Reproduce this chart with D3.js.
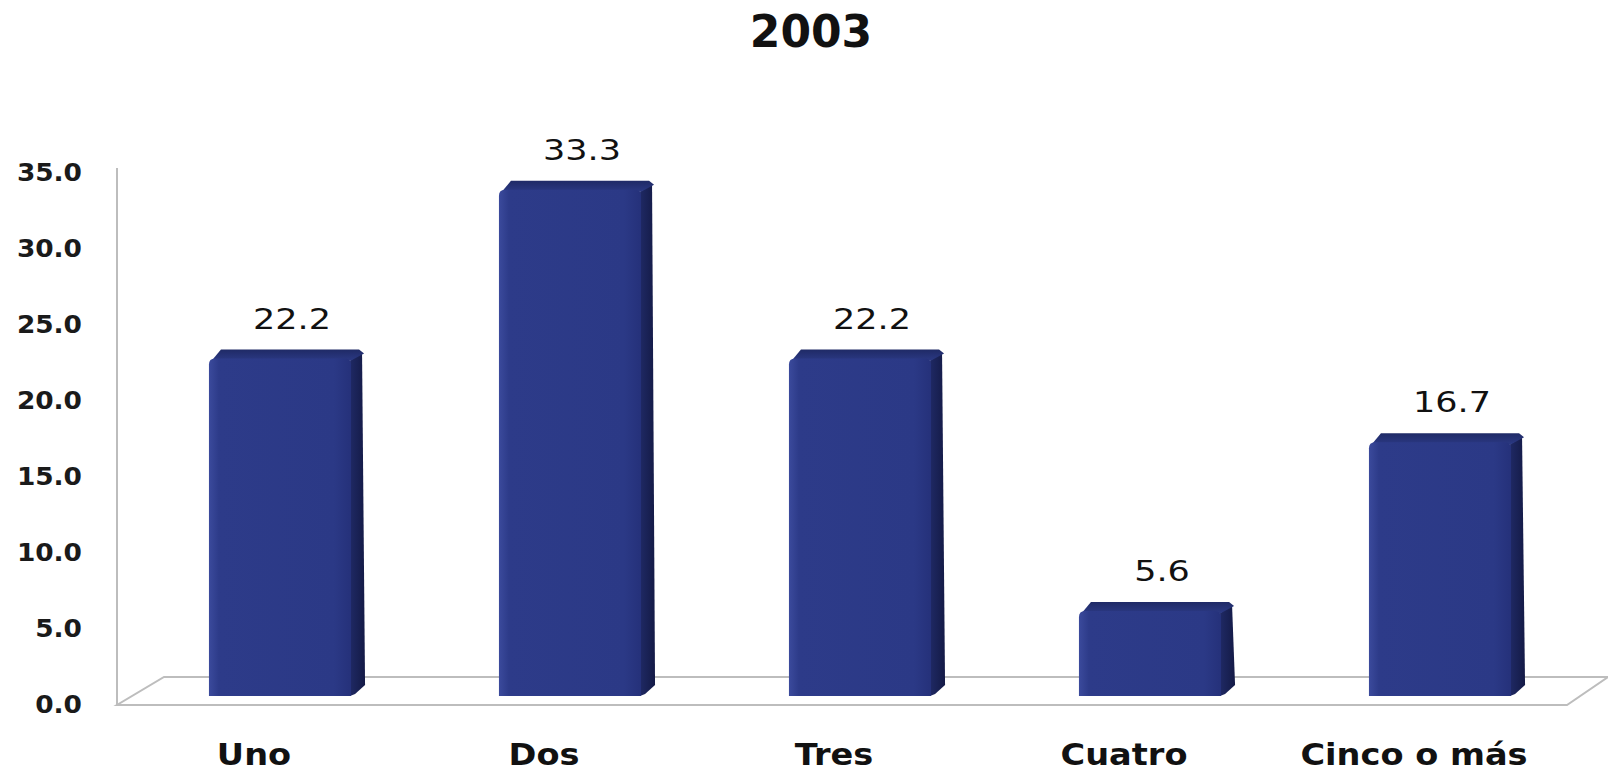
<!DOCTYPE html>
<html>
<head>
<meta charset="utf-8">
<script src="https://cdn.jsdelivr.net/npm/d3@7"></script>
<style>
  body { margin: 0; background: #fff; }
  text { font-family: "DejaVu Sans", Verdana, sans-serif; fill: #111; }
</style>
</head>
<body>
<div id="chart"></div>
<script>
// data
var title = "2003";
var categories = ["Uno", "Dos", "Tres", "Cuatro", "Cinco o más"];
var values = [22.2, 33.3, 22.2, 5.6, 16.7];
var yTicks = [0, 5, 10, 15, 20, 25, 30, 35];

var width = 1608, height = 777;

var svg = d3.select("#chart")
  .append("svg")
    .attr("width", width)
    .attr("height", height);

// scales (front edge of the floor)
var x = d3.scaleBand()
  .domain(categories)
  .range([117, 1567])
  .paddingInner(0.51)
  .paddingOuter(0.255);

var y = d3.scaleLinear()
  .domain([0, 35])
  .range([704, 172]);

// fake 3d offsets
var floorDx = 41, floorDy = 28;
var barDx = 18, barDy = 8;
var sideW = 14, topH = 9;

// gradients
var defs = svg.append("defs");
var gFront = defs.append("linearGradient").attr("id", "front").attr("x1", 0).attr("x2", 1).attr("y1", 0).attr("y2", 0);
gFront.append("stop").attr("offset", "0%").attr("stop-color", "#3b4a9c");
gFront.append("stop").attr("offset", "7%").attr("stop-color", "#2d3b89");
gFront.append("stop").attr("offset", "88%").attr("stop-color", "#2b3986");
gFront.append("stop").attr("offset", "100%").attr("stop-color", "#25317a");
var gSide = defs.append("linearGradient").attr("id", "side").attr("x1", 0).attr("x2", 1).attr("y1", 0).attr("y2", 0);
gSide.append("stop").attr("offset", "0%").attr("stop-color", "#1f2964");
gSide.append("stop").attr("offset", "100%").attr("stop-color", "#141a46");
var gTop = defs.append("linearGradient").attr("id", "top").attr("x1", 0).attr("x2", 0).attr("y1", 0).attr("y2", 1);
gTop.append("stop").attr("offset", "0%").attr("stop-color", "#1f2a66");
gTop.append("stop").attr("offset", "100%").attr("stop-color", "#2c3a86");

// title
svg.append("text")
  .attr("x", 811)
  .attr("y", 47)
  .attr("text-anchor", "middle")
  .style("font-size", "44px")
  .style("font-weight", "bold")
  .text(title);

// floor
var x0 = x.range()[0], x1 = x.range()[1];
svg.append("polygon")
  .attr("points", [
    [x0, y(0) + 1], [x1, y(0) + 1],
    [x1 + floorDx, y(0) + 1 - floorDy], [x0 + floorDx + 6, y(0) + 1 - floorDy]
  ].map(function(p) { return p.join(","); }).join(" "))
  .attr("fill", "#fff")
  .attr("stroke", "#bdbdbd")
  .attr("stroke-width", 2);

// vertical axis line
svg.append("line")
  .attr("x1", x0).attr("x2", x0)
  .attr("y1", y(35) - 4).attr("y2", y(0) + 1)
  .attr("stroke", "#bdbdbd")
  .attr("stroke-width", 2);

// y axis labels
var yAxis = svg.append("g")
  .attr("transform", "translate(82,0)")
  .call(d3.axisLeft(y).tickValues(yTicks).tickFormat(d3.format(".1f")).tickSize(0).tickPadding(0));
yAxis.select(".domain").remove();
yAxis.selectAll("text")
  .attr("x", 0)
  .attr("dy", "0.36em")
  .attr("transform", "scale(1.1,1)")
  .style("font-family", "'DejaVu Sans', Verdana, sans-serif")
  .style("font-size", "24px")
  .style("font-weight", "bold")
  .style("fill", "#1a1a1a");

// bars
var bw = x.bandwidth();
var bars = svg.append("g")
  .selectAll("g")
  .data(categories)
  .enter()
  .append("g");

bars.append("polygon")
  .attr("points", function(d, i) {
    var l = x(d) + barDx, r = l + bw, t = y(values[i]) - barDy, b = y(0) - barDy;
    return [[r - 1, t + 2], [r + sideW - 3, t - topH + 3], [r + sideW, b - topH - 2], [r + 4, b - 2], [r - 1, b]]
      .map(function(p) { return p.join(","); }).join(" ");
  })
  .attr("fill", "url(#side)");

bars.append("polygon")
  .attr("points", function(d, i) {
    var l = x(d) + barDx, r = l + bw, t = y(values[i]) - barDy;
    return [[l + 2, t + 3], [l + sideW - 2, t - topH], [r + sideW - 6, t - topH], [r + sideW - 1, t - topH + 4], [r, t + 2]]
      .map(function(p) { return p.join(","); }).join(" ");
  })
  .attr("fill", "url(#top)");

bars.append("path")
  .attr("d", function(d, i) {
    var l = x(d) + barDx, r = l + bw, t = y(values[i]) - barDy, b = y(0) - barDy, rr = 6;
    return "M" + l + "," + b + "V" + (t + rr) + "Q" + l + "," + t + " " + (l + rr) + "," + t +
      "H" + (r - rr) + "Q" + r + "," + t + " " + r + "," + (t + rr) + "V" + b + "Z";
  })
  .attr("fill", "url(#front)");

// value labels
bars.append("text")
  .attr("transform", function(d, i) {
    return "translate(" + (x(d) + barDx + bw / 2 + 12) + "," + (y(values[i]) - barDy - 30) + ") scale(1.25,1)";
  })
  .attr("text-anchor", "middle")
  .style("font-size", "28px")
  .text(function(d, i) { return d3.format(".1f")(values[i]); });

// category labels
svg.append("g")
  .selectAll("text")
  .data(categories)
  .enter()
  .append("text")
    .attr("transform", function(d) {
      return "translate(" + (x(d) + bw / 2 - 8) + ",765) scale(1.12,1)";
    })
    .attr("text-anchor", "middle")
    .style("font-size", "30px")
    .style("font-weight", "bold")
    .text(function(d) { return d; });
</script>
</body>
</html>
